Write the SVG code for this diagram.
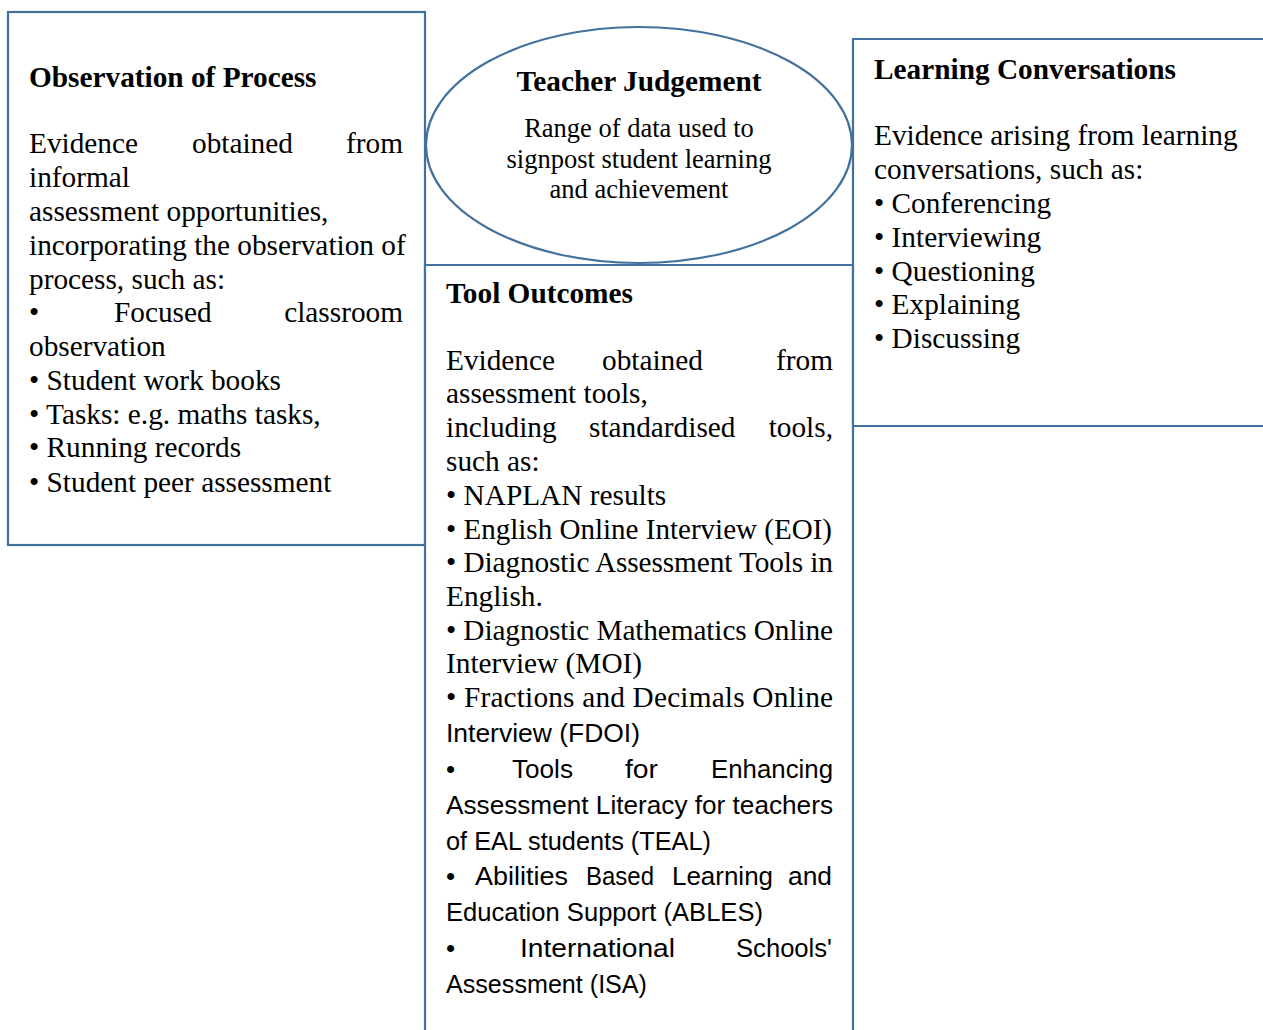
<svg xmlns="http://www.w3.org/2000/svg" width="1263" height="1030" viewBox="0 0 1263 1030">
<style>
.box{fill:#fff;stroke:#41719C;stroke-width:2.2}
.s{font-family:"Liberation Serif","Times New Roman",serif;font-size:29.3px;fill:#000}
.h{font-family:"Liberation Serif","Times New Roman",serif;font-size:29.3px;font-weight:bold;fill:#000}
.e{font-family:"Liberation Serif","Times New Roman",serif;font-size:26.5px;fill:#000}
.a{font-family:"Liberation Sans",Arial,sans-serif;font-size:26px;fill:#000}
.end{text-anchor:end}
.mid{text-anchor:middle}
</style>
<rect width="1263" height="1030" fill="#fff"/>
<g id="observation">
<rect class="box" x="8" y="12" width="417" height="533"/>
<text class="h" x="29" y="87">Observation of Process</text>
<text class="s" x="29" y="153">Evidence</text>
<text class="s" x="192" y="153">obtained</text>
<text class="s end" x="403" y="153">from</text>
<text class="s" x="29" y="187">informal</text>
<text class="s" x="29" y="221">assessment opportunities,</text>
<text class="s" x="29" y="255">incorporating the observation of</text>
<text class="s" x="29" y="289">process, such as:</text>
<text class="s" x="29" y="322">•</text>
<text class="s" x="114" y="322">Focused</text>
<text class="s end" x="403" y="322">classroom</text>
<text class="s" x="29" y="356">observation</text>
<text class="s" x="29" y="390">• Student work books</text>
<text class="s" x="29" y="424">• Tasks: e.g. maths tasks,</text>
<text class="s" x="29" y="457">• Running records</text>
<text class="s" x="29" y="492">• Student peer assessment</text>
</g>
<g id="tools">
<path class="box" d="M425 1032 V265 H853 V1032"/>
<text class="h" x="446" y="303">Tool Outcomes</text>
<text class="s" x="446" y="370">Evidence</text>
<text class="s" x="602" y="370">obtained</text>
<text class="s end" x="833" y="370">from</text>
<text class="s" x="446" y="403">assessment tools,</text>
<text class="s" x="446" y="437">including</text>
<text class="s" x="589" y="437">standardised</text>
<text class="s end" x="833" y="437">tools,</text>
<text class="s" x="446" y="471">such as:</text>
<text class="s" x="446" y="505">• NAPLAN results</text>
<text class="s" x="446" y="539" textLength="386" lengthAdjust="spacingAndGlyphs">• English Online Interview (EOI)</text>
<text class="s" x="446" y="572" textLength="387" lengthAdjust="spacing">• Diagnostic Assessment Tools in</text>
<text class="s" x="446" y="606">English.</text>
<text class="s" x="446" y="640" textLength="387" lengthAdjust="spacing">• Diagnostic Mathematics Online</text>
<text class="s" x="446" y="673">Interview (MOI)</text>
<text class="s" x="446" y="707" textLength="387" lengthAdjust="spacing">• Fractions and Decimals Online</text>
<text class="a" x="446" y="742" textLength="194" lengthAdjust="spacingAndGlyphs">Interview (FDOI)</text>
<text class="a" x="446" y="778">•</text>
<text class="a" x="512" y="778" textLength="61" lengthAdjust="spacingAndGlyphs">Tools</text>
<text class="a" x="625" y="778" textLength="33" lengthAdjust="spacingAndGlyphs">for</text>
<text class="a" x="711" y="778" textLength="122" lengthAdjust="spacingAndGlyphs">Enhancing</text>
<text class="a" x="446" y="814" textLength="387" lengthAdjust="spacingAndGlyphs">Assessment Literacy for teachers</text>
<text class="a" x="446" y="850" textLength="265" lengthAdjust="spacingAndGlyphs">of EAL students (TEAL)</text>
<text class="a" x="446" y="885">•</text>
<text class="a" x="475" y="885" textLength="93" lengthAdjust="spacingAndGlyphs">Abilities</text>
<text class="a" x="586" y="885" textLength="68" lengthAdjust="spacingAndGlyphs">Based</text>
<text class="a" x="672" y="885" textLength="101" lengthAdjust="spacingAndGlyphs">Learning</text>
<text class="a" x="788" y="885" textLength="44" lengthAdjust="spacingAndGlyphs">and</text>
<text class="a" x="446" y="921" textLength="317" lengthAdjust="spacingAndGlyphs">Education Support (ABLES)</text>
<text class="a" x="446" y="957">•</text>
<text class="a" x="520" y="957" textLength="155" lengthAdjust="spacingAndGlyphs">International</text>
<text class="a" x="736" y="957" textLength="96" lengthAdjust="spacingAndGlyphs">Schools'</text>
<text class="a" x="446" y="993" textLength="201" lengthAdjust="spacingAndGlyphs">Assessment (ISA)</text>
</g>
<g id="conversations">
<path class="box" d="M1265 39 H853 V426 H1265"/>
<text class="h" x="874" y="79">Learning Conversations</text>
<text class="s" x="874" y="145">Evidence arising from learning</text>
<text class="s" x="874" y="179">conversations, such as:</text>
<text class="s" x="874" y="213">• Conferencing</text>
<text class="s" x="874" y="247">• Interviewing</text>
<text class="s" x="874" y="281">• Questioning</text>
<text class="s" x="874" y="314">• Explaining</text>
<text class="s" x="874" y="348">• Discussing</text>
</g>
<g id="judgement">
<ellipse class="box" cx="639" cy="145" rx="213" ry="118"/>
<text class="h mid" x="639" y="91">Teacher Judgement</text>
<text class="e mid" x="639" y="137">Range of data used to</text>
<text class="e mid" x="639" y="168">signpost student learning</text>
<text class="e mid" x="639" y="198">and achievement</text>
</g>
<g id="connectors"></g>
</svg>
